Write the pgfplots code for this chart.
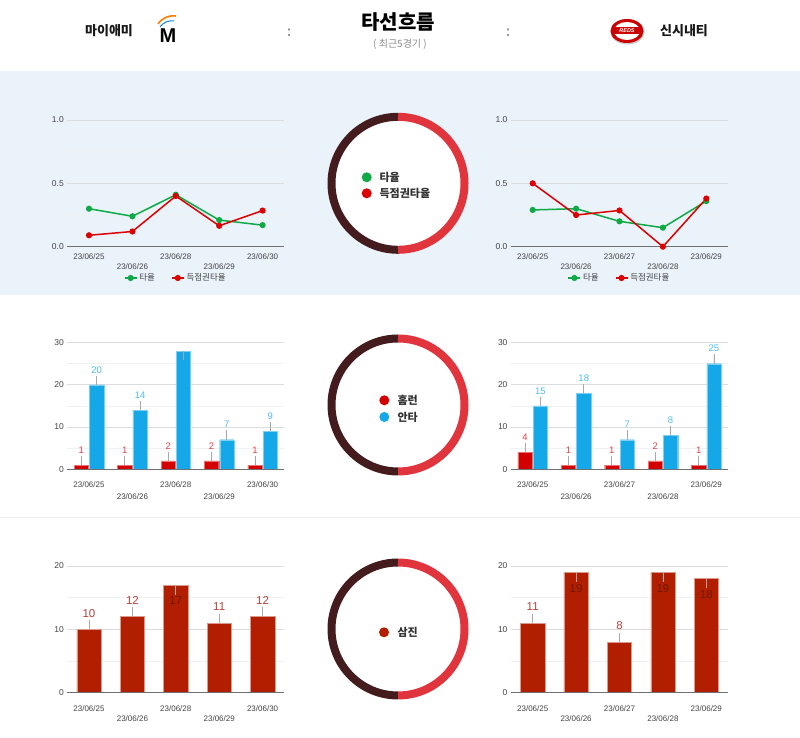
\documentclass[border=0pt]{standalone}
\usepackage{pgfplots}
\pgfplotsset{compat=1.18}
\usepackage{fontspec}
\setmainfont{Liberation Sans}
\newfontfamily\kr{Noto Sans CJK KR}
\definecolor{bandbg}{HTML}{EAF2FA}
\definecolor{gridc}{HTML}{DADDE0}
\definecolor{minorc}{HTML}{EEF1F4}
\definecolor{basec}{HTML}{707070}
\definecolor{tickc}{HTML}{444444}
\definecolor{avgG}{HTML}{0DAA45}
\definecolor{avgR}{HTML}{DD0000}
\definecolor{hrC}{HTML}{D40000}
\definecolor{hitC}{HTML}{14A8E8}
\definecolor{soC}{HTML}{B21F00}
\definecolor{ringL}{HTML}{451C1E}
\definecolor{ringR}{HTML}{E1353E}
\definecolor{stemc}{HTML}{A8A8A8}
\definecolor{sepc}{HTML}{F0F0F0}
\definecolor{labR}{HTML}{E2424A}
\definecolor{labB}{HTML}{4FBEF2}
\definecolor{labS}{HTML}{B5443A}
\definecolor{inS}{HTML}{701808}
\definecolor{legtxt}{HTML}{333333}
\pgfplotsset{
  base/.style={
    scale only axis, width=217pt, height=126.7pt, anchor=south west,
    xmin=-0.5, xmax=4.5, ymin=0,
    axis line style={draw=none}, tick style={draw=none},
    ymajorgrids, yminorgrids,
    major grid style={gridc, line width=0.8pt},
    minor grid style={minorc, line width=0.8pt},
    xtick={0,2,4}, extra x ticks={1,3},
    xticklabel style={font=\fontsize{8}{9}\selectfont, text=tickc, anchor=center},
    yticklabel style={font=\fontsize{8.5}{9}\selectfont, text=tickc},
    /pgf/number format/assume math mode=true,
    clip=false,
  },
  stem/.style={error bars/.cd, y dir=both, y explicit, error mark=none,
    error bar style={stemc, line width=0.8pt}},
  lab/.style={nodes near coords, point meta=explicit symbolic,
    visualization depends on={value \thisrow{dy} \as \dy},
    visualization depends on={value \thisrow{tc} \as \tc},
    every node near coord/.append style={anchor=center, yshift=\dy pt, text=\tc, font=#1}},
}
\begin{document}
\begin{tikzpicture}
\begin{scope}[x=1pt,y=1pt]
\useasboundingbox (0,0) rectangle (800,738);
\fill[white] (0,0) rectangle (800,738);
\fill[bandbg] (0,443) rectangle (800,667);
\draw[sepc, line width=0.8pt] (0,221) -- (800,221);

% ---------- header ----------
\node[font=\kr\bfseries\fontsize{13}{14}\selectfont, text=black!90] at (109,707) {마이애미};
\draw[orange, line width=1.6pt] (158,714) to[bend left=30] (176,722);
\draw[cyan!70!blue, line width=1pt] (160,711) to[bend left=30] (174,717);
\node[font=\bfseries\fontsize{20}{20}\selectfont, text=black] at (168,702) {M};
\node[font=\bfseries\fontsize{15}{15}\selectfont, text=black!40] at (289,705) {:};
\node[font=\kr\bfseries\fontsize{20}{22}\selectfont, text=black] at (398,716) {타선흐름};
\node[font=\kr\fontsize{10}{11}\selectfont, text=black!45] at (400,694) {( 최근5경기 )};
\node[font=\bfseries\fontsize{15}{15}\selectfont, text=black!40] at (508,705) {:};
\fill[black!20] (627.5,706) ellipse (17 and 12.5);
\fill[red!80!black] (627,707) ellipse (16.5 and 12);
\fill[white] (627,707) ellipse (13 and 9);
\fill[red!80!black] (614,703.5) rectangle (640,710.5);
\node[font=\bfseries\itshape\fontsize{5.5}{6}\selectfont, text=white] at (627,707) {REDS};
\node[font=\kr\bfseries\fontsize{13}{14}\selectfont, text=black!90] at (684,707) {신시내티};

% ---------- rings ----------
\foreach \cy in {554.7,333,109} {
  \fill[white] (398,\cy) circle (66.5);
  \draw[ringL, line width=8pt] (398,\cy+66.5) arc (90:270:66.5);
  \draw[ringR, line width=8pt] (398,\cy-66.5) arc (-90:90:66.5);
}
\fill[avgG] (366.7,560.7) circle (5);
\fill[avgR] (366.7,544.7) circle (5);
\node[anchor=west, font=\kr\bfseries\fontsize{11}{12}\selectfont, text=legtxt] at (376,560.7) {타율};
\node[anchor=west, font=\kr\bfseries\fontsize{11}{12}\selectfont, text=legtxt] at (376,544.7) {득점권타율};
\fill[hrC] (384.3,337.7) circle (5);
\fill[hitC] (384.3,321) circle (5);
\node[anchor=west, font=\kr\bfseries\fontsize{11}{12}\selectfont, text=legtxt] at (394,337.7) {홈런};
\node[anchor=west, font=\kr\bfseries\fontsize{11}{12}\selectfont, text=legtxt] at (394,321) {안타};
\fill[soC] (384,105.7) circle (5);
\node[anchor=west, font=\kr\bfseries\fontsize{11}{12}\selectfont, text=legtxt] at (394,105.7) {삼진};
\end{scope}

% ---------- line charts ----------
\pgfplotsset{
  linechart/.style={base, ymax=1, ytick={0,0.5,1}, minor ytick={0.25,0.75},
    yticklabel style={/pgf/number format/.cd, fixed, fixed zerofill, precision=1},
    xticklabel style={yshift=-9.5pt}, extra x tick style={xticklabel style={yshift=-10pt}},
    legend style={at={(0.5,-0.247)}, anchor=center, draw=none, fill=none,
      legend columns=2, font=\kr\fontsize{8.5}{9}\selectfont, text=tickc,
      /tikz/every even column/.append style={column sep=14pt}},
    legend image code/.code={\draw[##1, mark repeat=2, mark phase=2] plot coordinates {(0pt,0pt) (6pt,0pt) (12pt,0pt)};},
  },
}
\begin{axis}[linechart, at={(67.3pt,491.3pt)},
  xticklabels={23/06/25,23/06/28,23/06/30}, extra x tick labels={23/06/26,23/06/29}]
\addplot[avgG, line width=1.5pt, mark=*, mark size=2.3pt] coordinates {(0,0.30) (1,0.24) (2,0.41) (3,0.21) (4,0.17)};
\addlegendentry{타율}
\addplot[avgR, line width=1.5pt, mark=*, mark size=2.3pt] coordinates {(0,0.09) (1,0.12) (2,0.40) (3,0.165) (4,0.285)};
\addlegendentry{득점권타율}
\draw[basec, line width=1pt] (rel axis cs:0,0) -- (rel axis cs:1,0);
\end{axis}
\begin{axis}[linechart, at={(511pt,491.3pt)},
  xticklabels={23/06/25,23/06/27,23/06/29}, extra x tick labels={23/06/26,23/06/28}]
\addplot[avgG, line width=1.5pt, mark=*, mark size=2.3pt] coordinates {(0,0.29) (1,0.30) (2,0.20) (3,0.15) (4,0.36)};
\addlegendentry{타율}
\addplot[avgR, line width=1.5pt, mark=*, mark size=2.3pt] coordinates {(0,0.50) (1,0.25) (2,0.286) (3,0.0) (4,0.38)};
\addlegendentry{득점권타율}
\draw[basec, line width=1pt] (rel axis cs:0,0) -- (rel axis cs:1,0);
\end{axis}

% ---------- HR / hits ----------
\pgfplotsset{
  barmid/.style={base, ymax=30, ytick={0,10,20,30}, minor ytick={5,15,25},
    xticklabel style={yshift=-11.4pt}, extra x tick style={xticklabel style={yshift=-12pt}},
    ybar=1pt, bar width=14.3pt},
}
\begin{axis}[barmid, at={(67.3pt,268.7pt)},
  xticklabels={23/06/25,23/06/28,23/06/30}, extra x tick labels={23/06/26,23/06/29}]
\addplot[fill=hrC, draw=hrC!55!white, line width=0.4pt, lab={\fontsize{9.5}{10}\selectfont}, stem]
  table[x=x, y=y, meta=lab, y error plus=ep, y error minus=em] {
x y ep em lab dy tc
0 1 2.2 0 1 15 labR
1 1 2.2 0 1 15 labR
2 2 2.2 0 2 15 labR
3 2 2.2 0 2 15 labR
4 1 2.2 0 1 15 labR
};
\addplot[fill=hitC, draw=hitC!55!white, line width=0.4pt, lab={\fontsize{9.5}{10}\selectfont}, stem]
  table[x=x, y=y, meta=lab, y error plus=ep, y error minus=em] {
x y ep em lab dy tc
0 20 2.2 0 20 15 labB
1 14 2.2 0 14 15 labB
2 28 0 2.2 {} -15 labB
3 7 2.2 0 7 15 labB
4 9 2.2 0 9 15 labB
};
\draw[basec, line width=1pt] (rel axis cs:0,0) -- (rel axis cs:1,0);
\end{axis}
\begin{axis}[barmid, at={(511pt,268.7pt)},
  xticklabels={23/06/25,23/06/27,23/06/29}, extra x tick labels={23/06/26,23/06/28}]
\addplot[fill=hrC, draw=hrC!55!white, line width=0.4pt, lab={\fontsize{9.5}{10}\selectfont}, stem]
  table[x=x, y=y, meta=lab, y error plus=ep, y error minus=em] {
x y ep em lab dy tc
0 4 2.2 0 4 15 labR
1 1 2.2 0 1 15 labR
2 1 2.2 0 1 15 labR
3 2 2.2 0 2 15 labR
4 1 2.2 0 1 15 labR
};
\addplot[fill=hitC, draw=hitC!55!white, line width=0.4pt, lab={\fontsize{9.5}{10}\selectfont}, stem]
  table[x=x, y=y, meta=lab, y error plus=ep, y error minus=em] {
x y ep em lab dy tc
0 15 2.2 0 15 15 labB
1 18 2.2 0 18 15 labB
2 7 2.2 0 7 15 labB
3 8 2.2 0 8 15 labB
4 25 2.2 0 25 15 labB
};
\draw[basec, line width=1pt] (rel axis cs:0,0) -- (rel axis cs:1,0);
\end{axis}

% ---------- strikeouts ----------
\pgfplotsset{
  barbot/.style={base, ymax=20, ytick={0,10,20}, minor ytick={5,15},
    xticklabel style={yshift=-11.3pt}, extra x tick style={xticklabel style={yshift=-10.3pt}},
    ybar, bar width=24.3pt},
}
\begin{axis}[barbot, at={(67.3pt,45.3pt)},
  xticklabels={23/06/25,23/06/28,23/06/30}, extra x tick labels={23/06/26,23/06/29}]
\addplot[fill=soC, draw=soC!45!white, line width=0.5pt, lab={\fontsize{11.5}{12}\selectfont}, stem]
  table[x=x, y=y, meta=lab, y error plus=ep, y error minus=em] {
x y ep em lab dy tc
0 10 1.5 0 10 16 labS
1 12 1.5 0 12 16 labS
2 17 0 1.5 17 -16 inS
3 11 1.5 0 11 16 labS
4 12 1.5 0 12 16 labS
};
\draw[basec, line width=1pt] (rel axis cs:0,0) -- (rel axis cs:1,0);
\end{axis}
\begin{axis}[barbot, at={(511pt,45.3pt)},
  xticklabels={23/06/25,23/06/27,23/06/29}, extra x tick labels={23/06/26,23/06/28}]
\addplot[fill=soC, draw=soC!45!white, line width=0.5pt, lab={\fontsize{11.5}{12}\selectfont}, stem]
  table[x=x, y=y, meta=lab, y error plus=ep, y error minus=em] {
x y ep em lab dy tc
0 11 1.5 0 11 16 labS
1 19 0 1.5 19 -16 inS
2 8 1.5 0 8 16 labS
3 19 0 1.5 19 -16 inS
4 18 0 1.5 18 -16 inS
};
\draw[basec, line width=1pt] (rel axis cs:0,0) -- (rel axis cs:1,0);
\end{axis}
\end{tikzpicture}
\end{document}
